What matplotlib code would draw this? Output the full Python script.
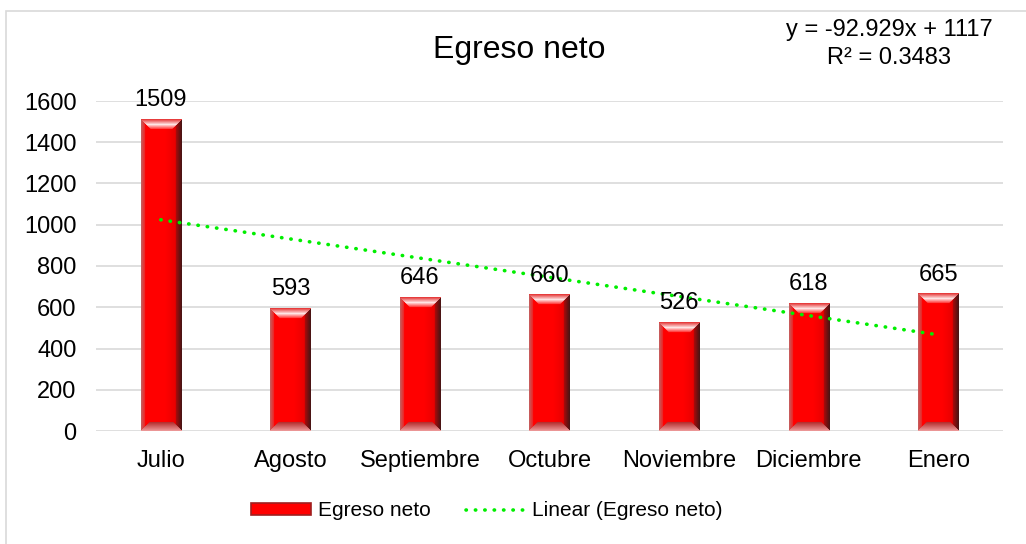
import numpy as np
import matplotlib
matplotlib.use("Agg")
import matplotlib.pyplot as plt
from matplotlib.patches import Patch, Rectangle
from matplotlib.lines import Line2D

plt.rcParams['font.family'] = ['Liberation Sans', 'DejaVu Sans']

# ---- data ----
categories = ["Julio", "Agosto", "Septiembre", "Octubre", "Noviembre", "Diciembre", "Enero"]
values = [1509, 593, 646, 660, 526, 618, 665]
trend_slope = -92.929
trend_intercept = 1117
r_squared = 0.3483
yticks = [0, 200, 400, 600, 800, 1000, 1200, 1400, 1600]

W_FIG, H_FIG = 1026, 544
fig = plt.figure(figsize=(W_FIG / 100, H_FIG / 100), dpi=100)
fig.patch.set_facecolor("white")

# outer chart frame
fig.patches.append(Rectangle((5.5 / W_FIG, -0.05), 1.2, 1 - 10.5 / H_FIG + 0.05,
                             transform=fig.transFigure, fill=False,
                             edgecolor="#d9d9d9", linewidth=1.2))

ax = fig.add_axes([96 / W_FIG, 1 - 431 / H_FIG, (1003 - 96) / W_FIG, (431 - 101) / H_FIG])
ax.set_facecolor("none")
x = np.arange(len(categories))
ax.set_xlim(-0.5, len(categories) - 0.5)
ax.set_ylim(0, 1600)
ax.set_yticks(yticks)
ax.set_xticks(x)
ax.set_xticklabels(categories, fontsize=17)
ax.tick_params(axis="y", labelsize=17, length=0, pad=14)
ax.tick_params(axis="x", length=0, pad=14)
for s in ax.spines.values():
    s.set_visible(False)
ax.yaxis.grid(True, color="#d9d9d9", linewidth=1.2, zorder=0)
ax.set_axisbelow(True)

bar_w = 0.31
bars = ax.bar(x, values, width=bar_w, color="#ff0000", zorder=2, linewidth=0)


def bevel_image(Hp, Wp):
    Hp = max(int(round(Hp)), 2)
    Wp = max(int(round(Wp)), 2)
    img = np.zeros((Hp, Wp, 3))
    ii, jj = np.mgrid[0:Hp, 0:Wp].astype(float)
    bt, bb, bl, br = 10.0, 9.0, 4.0, 6.0
    dl = jj
    dr = Wp - 1 - jj
    dside = np.minimum(dl, dr)
    dtop = ii
    dbot = Hp - 1 - ii
    # face: bright red, slightly darker to the right
    u = jj / (Wp - 1)
    img[..., 0] = 255 - 35 * np.clip((u - 0.6) / 0.4, 0, 1)
    img[..., 1] = 0
    img[..., 2] = 0
    # left bevel
    m = dl < bl
    t = (dl / bl)[m]
    c0 = np.array([200, 90, 90]); c1 = np.array([245, 25, 25])
    img[m] = c0 + (c1 - c0) * t[:, None]
    # right bevel
    m = dr < br
    t = (dr / br)[m]
    c0 = np.array([75, 20, 20]); c1 = np.array([180, 10, 10])
    img[m] = c0 + (c1 - c0) * t[:, None]
    # top bevel (trapezoid, 45 deg miter)
    m = (dtop < bt) & (dtop <= dside)
    t = (dtop / bt)[m]
    c0 = np.array([230, 60, 60]); c1 = np.array([255, 230, 230]); c2 = np.array([255, 30, 30])
    col = np.where((t < 0.5)[:, None], c0 + (c1 - c0) * (t / 0.5)[:, None],
                   c1 + (c2 - c1) * ((t - 0.5) / 0.5)[:, None])
    img[m] = col
    # bottom bevel
    m = (dbot < bb) & (dbot <= dside)
    t = (dbot / bb)[m]
    c0 = np.array([235, 150, 150]); c1 = np.array([175, 35, 35])
    img[m] = c0 + (c1 - c0) * t[:, None]
    return np.clip(img / 255.0, 0, 1)


for b in bars:
    x0, y0 = b.get_x(), b.get_y()
    w, h = b.get_width(), b.get_height()
    p0 = ax.transData.transform((x0, y0))
    p1 = ax.transData.transform((x0 + w, y0 + h))
    im = bevel_image(p1[1] - p0[1], p1[0] - p0[0])
    ax.imshow(im, extent=(x0, x0 + w, y0, y0 + h), aspect="auto",
              interpolation="bilinear", zorder=3)

ax.set_xlim(-0.5, len(categories) - 0.5)
ax.set_ylim(0, 1600)

ax.bar_label(bars, labels=[str(v) for v in values], padding=6, fontsize=17, zorder=5)

# linear trendline
xt = np.arange(1, len(categories) + 1)
yt = trend_slope * xt + trend_intercept
ax.plot(x, yt, color="#00ee00", linewidth=2.6, linestyle=(0, (0.1, 2.5)),
        dash_capstyle="round", zorder=4)

fig.text(0.506, 1 - 50 / H_FIG, "Egreso neto", fontsize=23, ha="center", va="center")
fig.text(889 / W_FIG, 1 - 30 / H_FIG, "y = -92.929x + 1117", fontsize=17,
         ha="center", va="center")
fig.text(889 / W_FIG, 1 - 58 / H_FIG, "R² = 0.3483", fontsize=17,
         ha="center", va="center")

handles = [Patch(facecolor="#ff0000", edgecolor="#a02020", linewidth=1.2),
           Line2D([], [], color="#00ee00", linewidth=2.6, linestyle=(0, (0.1, 2.5)),
                  dash_capstyle="round")]
fig.legend(handles, ["Egreso neto", "Linear (Egreso neto)"], loc="center",
           bbox_to_anchor=(487 / W_FIG, 1 - 511 / H_FIG), ncol=2, frameon=False,
           fontsize=15, handlelength=2.9, handleheight=0.5, columnspacing=1.7,
           handletextpad=0.3)

fig.savefig("out.png", dpi=100)
